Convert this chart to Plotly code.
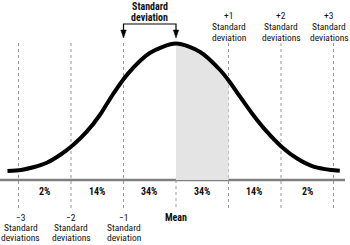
import plotly.graph_objects as go

# ---- data ----
curve_x = [-3.21, -2.95, -2.72, -2.46, -2.21, -1.96, -1.70, -1.45, -1.19, -0.91, -0.50, 0.0,
           0.46, 0.84, 1.02, 1.22, 1.47, 1.73, 2.01, 2.30, 2.62, 2.95, 3.12]
curve_y = [9, 10, 12.7, 17.3, 25, 35, 48.3, 65, 86.7, 106.7, 127, 136.5,
           128, 110, 98.3, 83.3, 65, 48.3, 33.3, 21.7, 13.3, 10, 9.3]
shade_x = [0.0, 0.46, 0.84, 1.0]
shade_y = [136.5, 128, 110, 100]
sd_positions = [-3, -2, -1, 1, 2, 3]
pct_positions = [-2.5, -1.5, -0.5, 0.5, 1.5, 2.5]
pct_labels = ["2%", "14%", "34%", "34%", "14%", "2%"]
bottom_labels = [("\u22123", "deviations"), ("\u22122", "deviations"), ("\u22121", "deviation")]
top_labels = [("+1", "deviation"), ("+2", "deviations"), ("+3", "deviations")]

FONT = "Noto Sans Condensed, Roboto Condensed, Open Sans Condensed, DejaVu Sans Condensed, sans-serif"
PX = 52.5  # pixels per standard deviation
X0 = 176   # pixel of the mean

def ypx(p):
    return 180 - p

fig = go.Figure()
fig.add_trace(go.Scatter(x=shade_x, y=shade_y, mode="lines", fill="tozeroy",
                         fillcolor="#e4e4e4", line=dict(width=0, shape="spline"),
                         hoverinfo="skip"))
fig.add_trace(go.Scatter(x=curve_x, y=curve_y, mode="lines",
                         line=dict(color="black", width=4, shape="spline", smoothing=0.8),
                         hoverinfo="skip"))

shapes = []
shapes.append(dict(type="line", x0=-X0 / PX, x1=(345 - X0) / PX, y0=0, y1=0,
                   line=dict(color="#808080", width=2.5), layer="below"))
for s in sd_positions:
    shapes.append(dict(type="line", x0=s, x1=s, y0=ypx(43), y1=ypx(208),
                       line=dict(color="#999", width=1, dash="dot"), layer="below"))
shapes.append(dict(type="line", x0=0, x1=0, y0=0, y1=ypx(208),
                   line=dict(color="#999", width=1, dash="dot"), layer="below"))
shapes.append(dict(type="path",
                   path=f"M -1,{ypx(31)} V {ypx(24)} H 0 V {ypx(31)}",
                   line=dict(color="black", width=1.2)))
hw = 2.7 / PX
for s in (-1, 0):
    shapes.append(dict(type="path",
                       path=f"M {s-hw},{ypx(30)} L {s+hw},{ypx(30)} L {s},{ypx(38)} Z",
                       fillcolor="black", line=dict(color="black", width=0.5)))

ann = []
def txt(x, y, t, bold=False, size=9.5):
    ann.append(dict(x=x, y=ypx(y), text=f"<b>{t}</b>" if bold else t, showarrow=False,
                    xanchor="center", yanchor="middle",
                    font=dict(family=FONT, size=size, color="#111")))

for p, l in zip(pct_positions, pct_labels):
    txt(p, 191, l, bold=True, size=10)
for s, (a, b) in zip([-3, -2, -1], bottom_labels):
    xs = s if s > -3 else -2.96
    txt(xs, 217, a)
    txt(xs, 227.5, "Standard")
    txt(xs, 237.5, b)
for s, (a, b) in zip([1, 2, 3], top_labels):
    xs = s if s < 3 else 2.92
    txt(xs, 15.5, a)
    txt(xs, 26.5, "Standard")
    txt(xs, 37, b)
txt(0, 217, "Mean", bold=True, size=10)
txt(-0.5, 6.5, "Standard", bold=True, size=10)
txt(-0.5, 17, "deviation", bold=True, size=10)

fig.update_layout(
    width=350, height=245, margin=dict(l=0, r=0, t=0, b=0),
    paper_bgcolor="white", plot_bgcolor="white", showlegend=False,
    xaxis=dict(range=[-X0 / PX, (350 - X0) / PX], visible=False, fixedrange=True),
    yaxis=dict(range=[ypx(245), ypx(0)], visible=False, fixedrange=True),
    shapes=shapes, annotations=ann,
)
fig.write_html("out.html")
